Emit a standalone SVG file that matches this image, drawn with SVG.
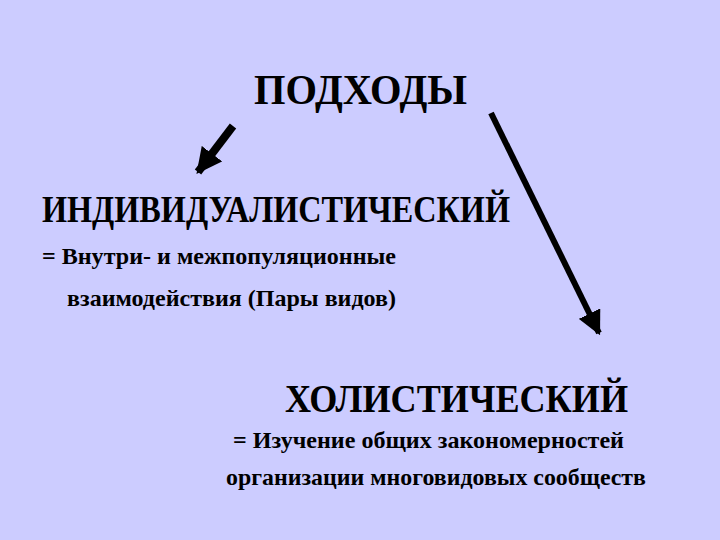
<svg xmlns="http://www.w3.org/2000/svg" width="720" height="540" viewBox="0 0 720 540">
<style>
.t{font-family:"Liberation Serif","DejaVu Serif","Times New Roman",serif;font-weight:bold;fill:#000}
</style>
<defs>
<marker id="ah" viewBox="0 0 10 10" refX="9" refY="5" markerWidth="3.2" markerHeight="3.2" orient="auto" markerUnits="strokeWidth">
<path d="M0,0 L10,5 L0,10 Z" fill="#000"/>
</marker>
<marker id="ah2" viewBox="0 0 10 10" refX="9" refY="5" markerWidth="4" markerHeight="4" orient="auto" markerUnits="strokeWidth">
<path d="M0,0 L10,5 L0,10 Z" fill="#000"/>
</marker>
</defs>
<rect width="720" height="540" fill="#CCCCFF"/>
<g id="connectors" stroke="#000" fill="none" stroke-linecap="butt">
<line x1="233" y1="126" x2="198" y2="172" stroke-width="8" marker-end="url(#ah)"/>
<line x1="491" y1="113" x2="599" y2="333" stroke-width="6" marker-end="url(#ah2)"/>
</g>
<g id="approaches">
<text class="t" x="254" y="104" font-size="42" textLength="213" lengthAdjust="spacingAndGlyphs">ПОДХОДЫ</text>
</g>
<g id="individualistic">
<text class="t" x="42" y="222" font-size="37" textLength="468" lengthAdjust="spacingAndGlyphs">ИНДИВИДУАЛИСТИЧЕСКИЙ</text>
<text class="t" x="42" y="264" font-size="23" textLength="354" lengthAdjust="spacingAndGlyphs">= Внутри- и межпопуляционные</text>
<text class="t" x="67" y="306" font-size="23" textLength="329" lengthAdjust="spacingAndGlyphs">взаимодействия (Пары видов)</text>
</g>
<g id="holistic">
<text class="t" x="285" y="412" font-size="40" textLength="343" lengthAdjust="spacingAndGlyphs">ХОЛИСТИЧЕСКИЙ</text>
<text class="t" x="233" y="448" font-size="23" textLength="391" lengthAdjust="spacingAndGlyphs">= Изучение общих закономерностей</text>
<text class="t" x="226" y="485" font-size="23" textLength="420" lengthAdjust="spacingAndGlyphs">организации многовидовых сообществ</text>
</g>
</svg>
